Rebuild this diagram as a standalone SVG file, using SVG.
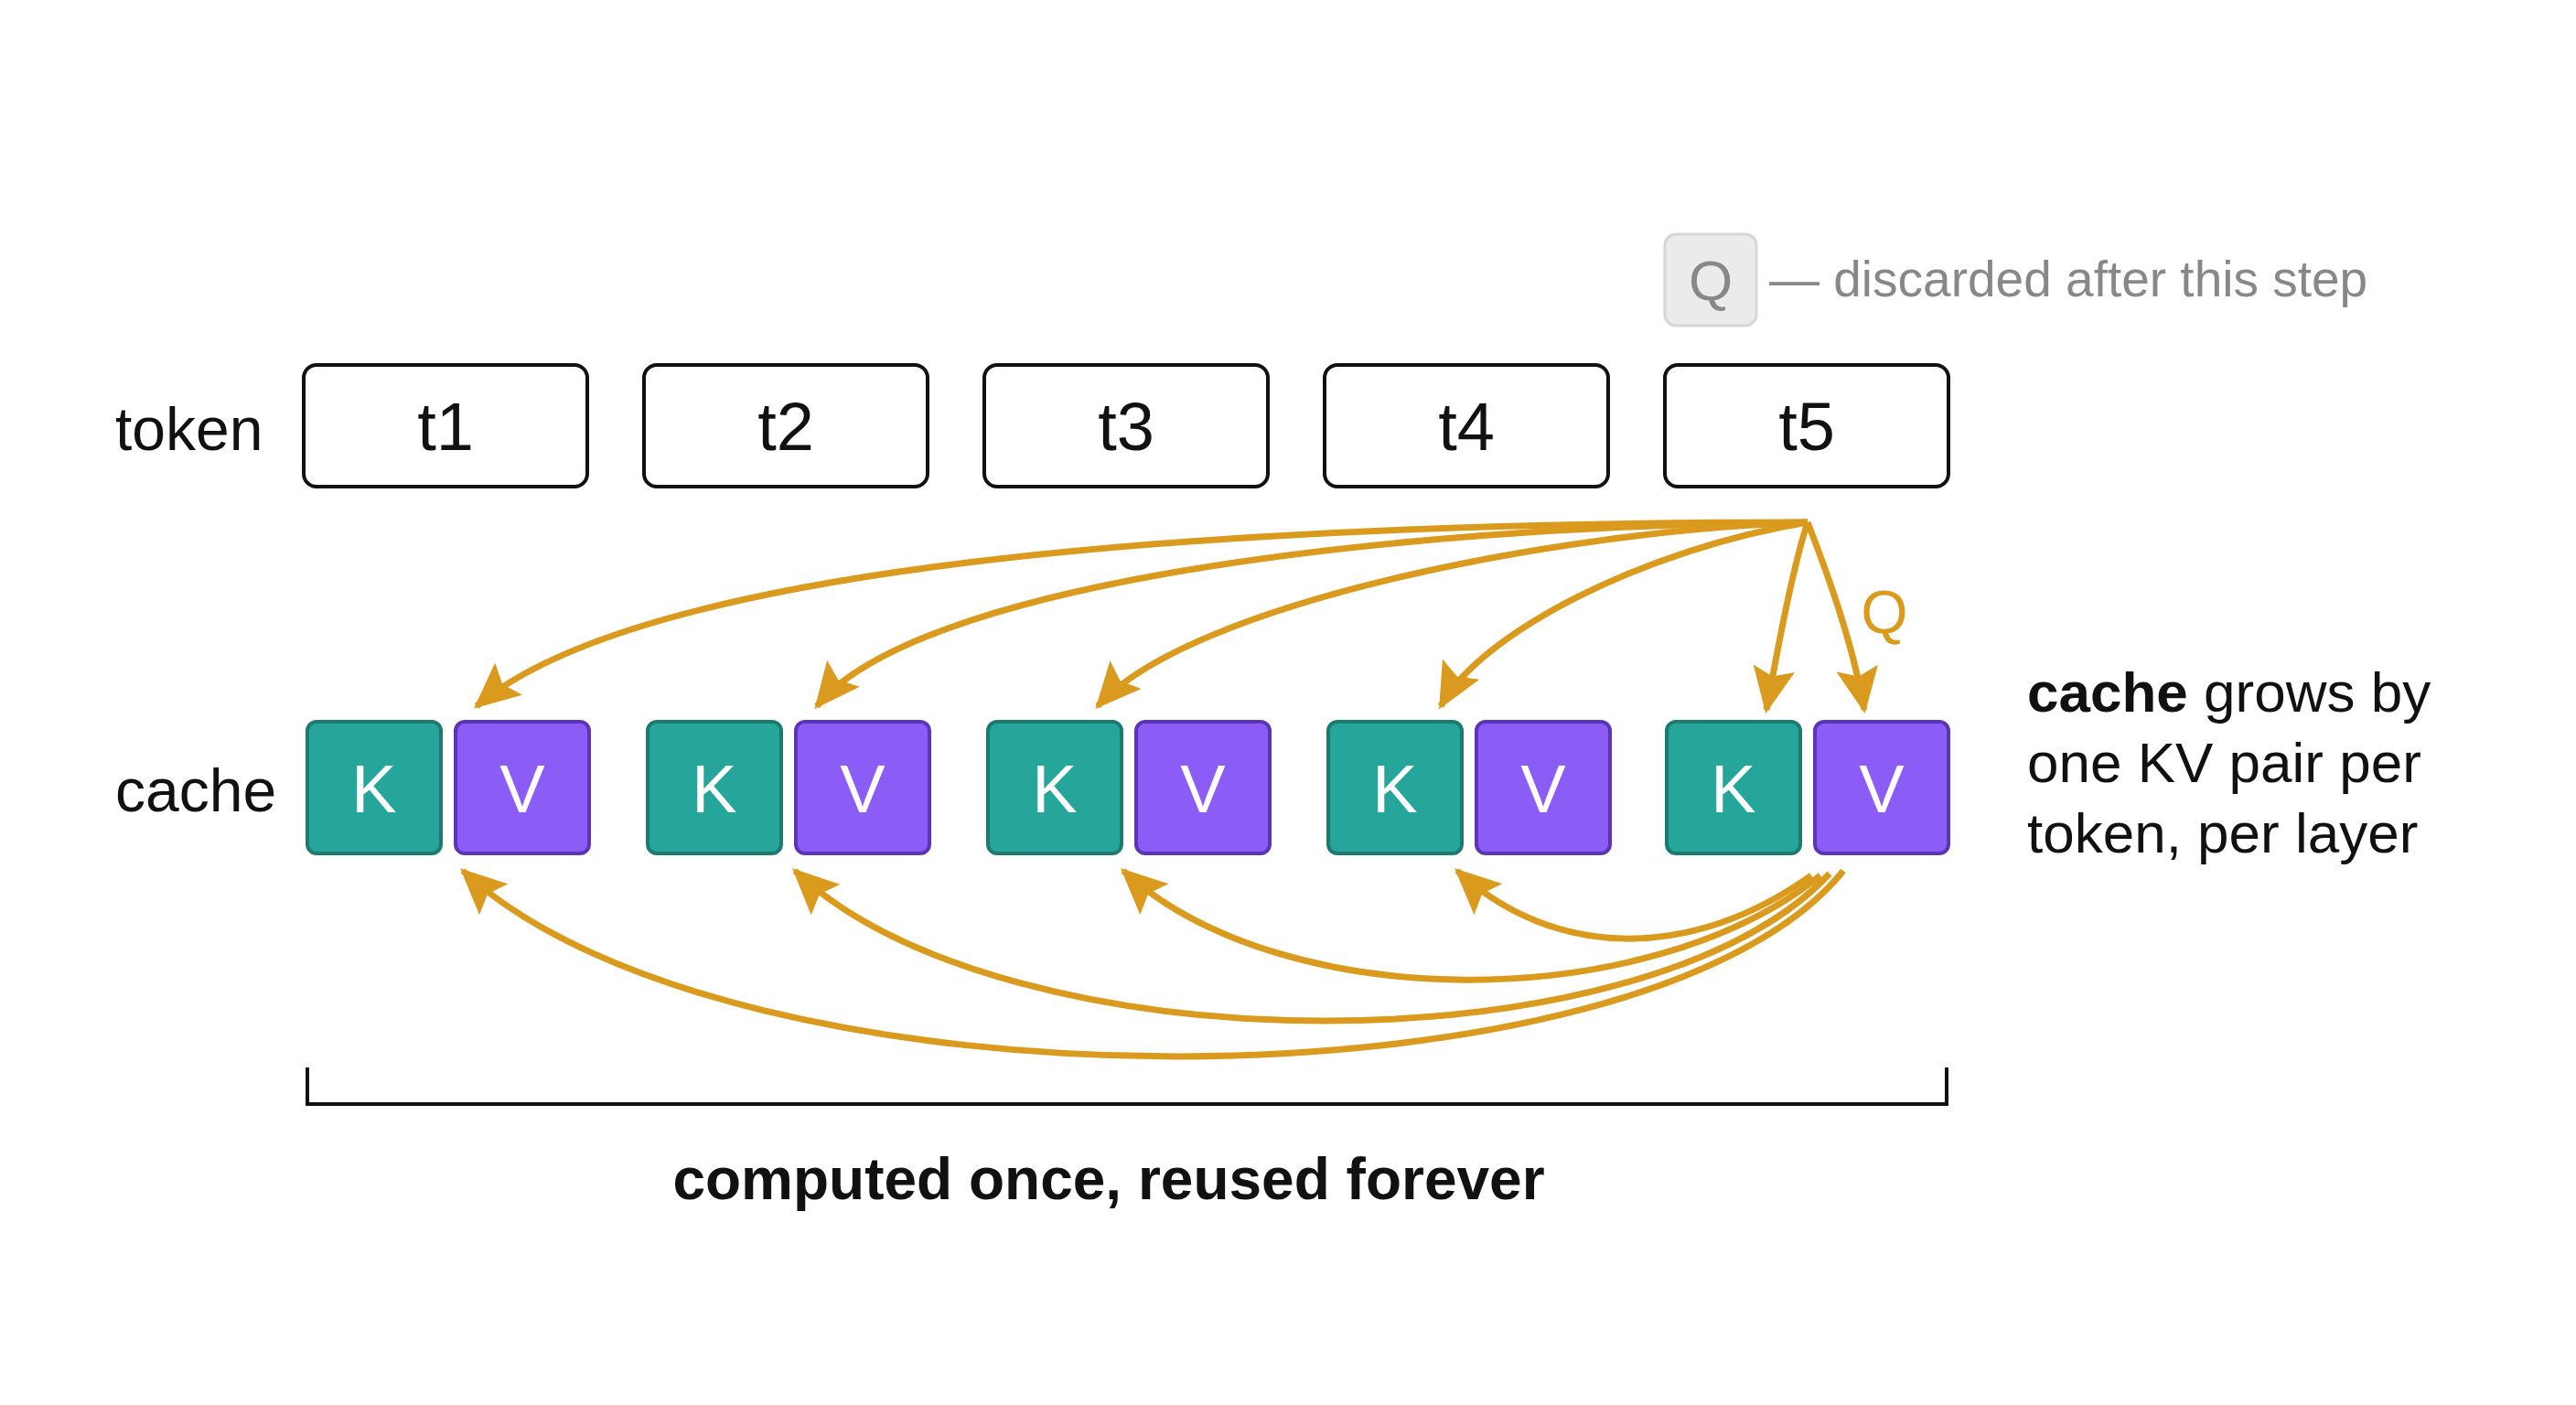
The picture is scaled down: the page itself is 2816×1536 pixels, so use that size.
<svg xmlns="http://www.w3.org/2000/svg" width="2816" height="1536" viewBox="0 0 2816 1536">
<style>
text{font-family:"Liberation Sans",Arial,sans-serif}
.tok{fill:#fff;stroke:#111;stroke-width:4}
.tl{font-size:74px;fill:#111;text-anchor:middle}
.k{fill:#26A69A;stroke:#1E7A70;stroke-width:4}
.v{fill:#8B5CF6;stroke:#5B35B5;stroke-width:4}
.kv{font-size:74px;fill:#fff;text-anchor:middle}
.lab{font-size:66px;fill:#111}
.side{font-size:62px;fill:#111}
.arr{fill:none;stroke:#D99A1E;stroke-width:7;marker-end:url(#ah)}
</style>
<defs>
<marker id="ah" markerUnits="userSpaceOnUse" markerWidth="50" markerHeight="46" refX="46" refY="23" orient="auto">
<path d="M0,0 L50,23 L0,46 L9,23 Z" fill="#D99A1E"/>
</marker>
</defs>
<rect width="2816" height="1536" fill="#fff"/>
<text class="lab" x="126" y="492">token</text>
<text class="lab" x="126" y="887">cache</text>
<g id="t1"><rect class="tok" x="332" y="399" width="310" height="133" rx="14"/><text class="tl" x="487" y="492">t1</text></g>
<g id="t2"><rect class="tok" x="704" y="399" width="310" height="133" rx="14"/><text class="tl" x="859" y="492">t2</text></g>
<g id="t3"><rect class="tok" x="1076" y="399" width="310" height="133" rx="14"/><text class="tl" x="1231" y="492">t3</text></g>
<g id="t4"><rect class="tok" x="1448" y="399" width="310" height="133" rx="14"/><text class="tl" x="1603" y="492">t4</text></g>
<g id="t5"><rect class="tok" x="1820" y="399" width="310" height="133" rx="14"/><text class="tl" x="1975" y="492">t5</text></g>
<g id="kv1"><rect class="k" x="336" y="789" width="146" height="144" rx="10"/><text class="kv" x="409" y="888">K</text><rect class="v" x="498" y="789" width="146" height="144" rx="10"/><text class="kv" x="571" y="888">V</text></g>
<g id="kv2"><rect class="k" x="708" y="789" width="146" height="144" rx="10"/><text class="kv" x="781" y="888">K</text><rect class="v" x="870" y="789" width="146" height="144" rx="10"/><text class="kv" x="943" y="888">V</text></g>
<g id="kv3"><rect class="k" x="1080" y="789" width="146" height="144" rx="10"/><text class="kv" x="1153" y="888">K</text><rect class="v" x="1242" y="789" width="146" height="144" rx="10"/><text class="kv" x="1315" y="888">V</text></g>
<g id="kv4"><rect class="k" x="1452" y="789" width="146" height="144" rx="10"/><text class="kv" x="1525" y="888">K</text><rect class="v" x="1614" y="789" width="146" height="144" rx="10"/><text class="kv" x="1687" y="888">V</text></g>
<g id="kv5"><rect class="k" x="1822" y="789" width="146" height="144" rx="10"/><text class="kv" x="1895" y="888">K</text><rect class="v" x="1984" y="789" width="146" height="144" rx="10"/><text class="kv" x="2057" y="888">V</text></g>
<g id="legend"><rect x="1820" y="256" width="100" height="100" rx="12" fill="#EBEBEB" stroke="#D6D6D6" stroke-width="3"/><text x="1870" y="328" font-size="62" fill="#888" text-anchor="middle">Q</text><text x="1934" y="324" font-size="55" fill="#888">— discarded after this step</text></g>
<g id="note"><text class="side" x="2216" y="778"><tspan font-weight="bold">cache</tspan> grows by</text><text class="side" x="2216" y="855">one KV pair per</text><text class="side" x="2216" y="932">token, per layer</text></g>
<g id="connectors">
<path class="arr" d="M1976,571 C1300,571 700,620 521,772"/>
<path class="arr" d="M1976,571 C1500,575 1000,640 893,772"/>
<path class="arr" d="M1976,571 C1700,580 1300,660 1200,772"/>
<path class="arr" d="M1976,571 C1800,600 1620,690 1575,772"/>
<path class="arr" d="M1976,571 C1960,620 1945,700 1931,776"/>
<path class="arr" d="M1976,571 C1995,620 2025,700 2038,776"/>
<path class="arr" d="M2015,952 C1800,1220 800,1225 506,952"/>
<path class="arr" d="M2000,955 C1800,1170 1100,1170 869,952"/>
<path class="arr" d="M1990,957 C1800,1110 1400,1110 1228,952"/>
<path class="arr" d="M1980,957 C1850,1050 1700,1050 1593,952"/>
<text x="2060" y="692" font-size="66" fill="#D99A1E" text-anchor="middle">Q</text>
</g>
<g id="bracket"><path d="M336,1167 V1207 H2128 V1167" fill="none" stroke="#111" stroke-width="4"/><text x="1212" y="1311" font-size="64" font-weight="bold" fill="#111" text-anchor="middle">computed once, reused forever</text></g>
</svg>
